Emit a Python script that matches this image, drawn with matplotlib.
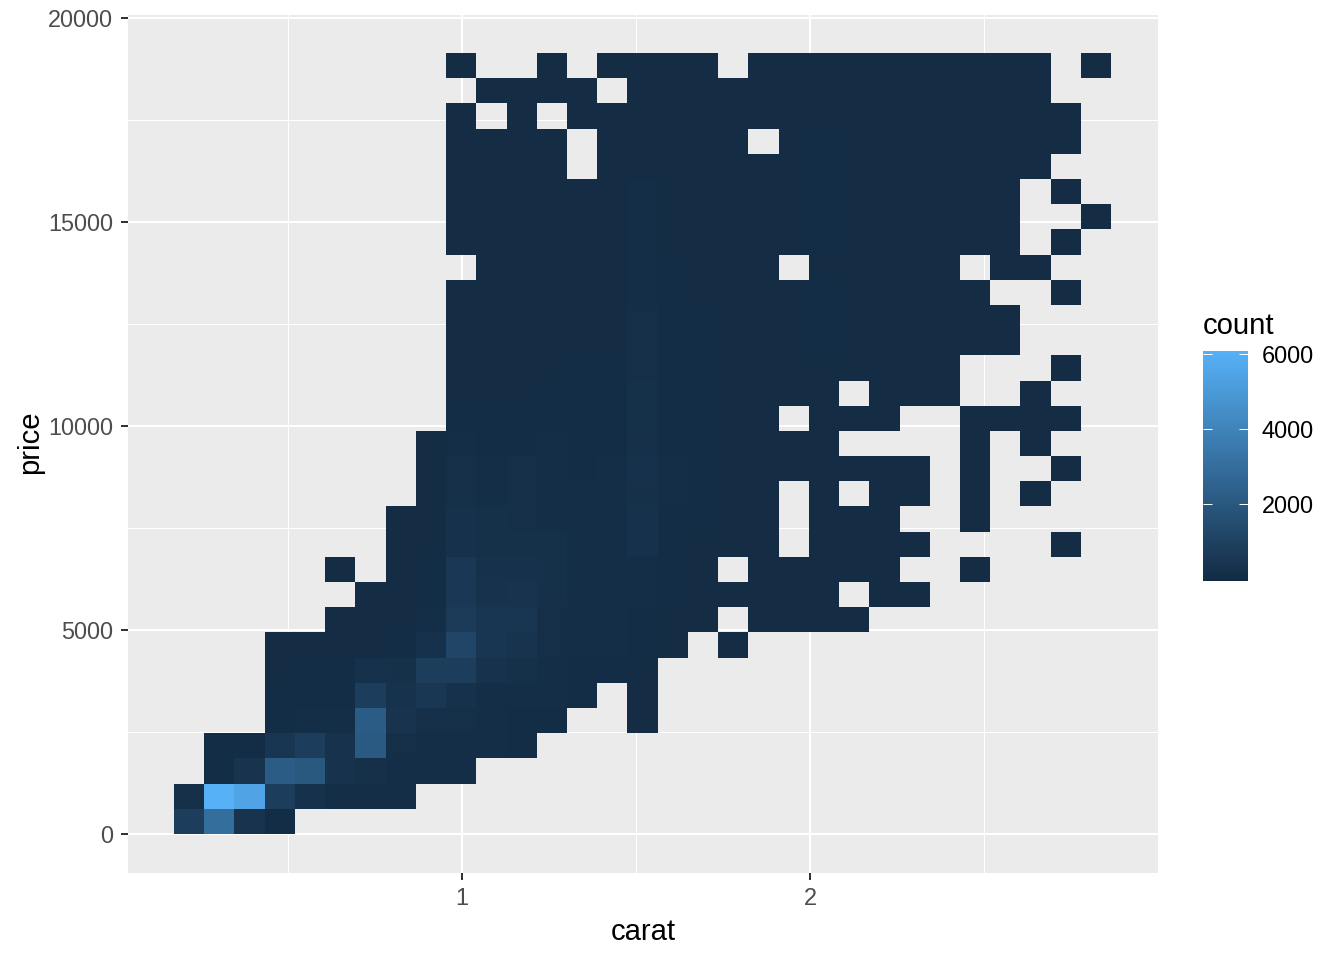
import numpy as np
import matplotlib
matplotlib.use('Agg')
import matplotlib.pyplot as plt
from matplotlib.colors import LinearSegmentedColormap

plt.rcParams['font.family'] = ['Liberation Sans', 'DejaVu Sans']

# counts per bin, top row of the plot first, 31 carat bins per row
counts_by_row = [
    [0]*9 + [3, 0, 0, 4, 0, 8, 9, 9, 7, 0, 6, 8, 10, 10, 8, 6, 5, 4, 3, 2, 0, 1],
    [0]*10 + [5, 6, 7, 8, 0, 20, 22, 20, 18, 22, 28, 40, 30, 25, 18, 14, 10, 8, 5] + [0]*2,
    [0]*9 + [4, 0, 5, 0, 8, 10, 24, 26, 22, 18, 24, 30, 45, 32, 28, 20, 16, 12, 9, 6, 3] + [0],
    [0]*9 + [8, 6, 7, 6, 0, 15, 26, 24, 20, 18, 0, 30, 48, 32, 28, 22, 16, 12, 8, 5, 2] + [0],
    [0]*9 + [9, 8, 9, 8, 0, 18, 30, 28, 24, 22, 24, 30, 50, 34, 30, 24, 18, 14, 9, 6] + [0]*2,
    [0]*9 + [12, 14, 13, 14, 18, 25, 70, 38, 32, 28, 30, 36, 55, 38, 32, 26, 20, 14, 7] + [0, 3, 0],
    [0]*9 + [14, 16, 15, 16, 20, 28, 80, 42, 36, 30, 32, 38, 55, 38, 34, 28, 22, 14, 6] + [0, 0, 2],
    [0]*9 + [16, 18, 16, 18, 22, 30, 85, 44, 38, 32, 34, 40, 50, 38, 32, 26, 18, 12, 5] + [0, 3, 0],
    [0]*10 + [20, 22, 24, 26, 32, 95, 48, 40, 34, 30] + [0] + [42, 36, 30, 24, 14] + [0] + [8, 4] + [0]*2,
    [0]*9 + [18, 24, 26, 28, 32, 38, 105, 52, 44, 36, 34, 40, 50, 38, 32, 24, 16, 8] + [0, 0, 3, 0],
    [0]*9 + [25, 30, 32, 34, 36, 42, 125, 50, 46, 38, 36, 44, 60, 42, 30, 20, 12, 6, 3] + [0]*3,
    [0]*9 + [28, 34, 36, 38, 40, 42, 150, 50, 48, 40, 38, 42, 52, 40, 28, 18, 10, 5, 2] + [0]*3,
    [0]*9 + [32, 38, 40, 42, 46, 48, 165, 55, 50, 42, 38, 36, 34, 28, 20, 12, 6] + [0]*3 + [3, 0],
    [0]*9 + [45, 42, 44, 50, 52, 58, 180, 60, 52, 44, 38, 34, 26] + [0] + [10, 8, 4] + [0]*2 + [2] + [0]*2,
    [0]*9 + [55, 48, 52, 60, 58, 62, 185, 62, 54, 42, 30] + [0] + [14, 10, 5] + [0]*2 + [3, 2, 2, 1, 0],
    [0]*8 + [10, 70, 60, 64, 70, 62, 66, 190, 66, 54, 40, 28, 20, 16] + [0]*4 + [2, 0, 2, 0, 0],
    [0]*8 + [16, 130, 95, 140, 95, 68, 72, 250, 70, 56, 40, 30, 22, 16, 12, 8, 4] + [0, 2, 0, 0, 2, 0],
    [0]*8 + [22, 125, 92, 135, 95, 70, 70, 210, 70, 52, 38, 26] + [0, 12, 0, 6, 4, 0, 2, 0, 2, 0, 0],
    [0]*7 + [8, 34, 250, 180, 165, 105, 74, 70, 235, 66, 48, 34, 22] + [0, 10, 7, 4, 0, 0, 1] + [0]*4,
    [0]*7 + [12, 40, 225, 175, 170, 170, 90, 75, 250, 62, 44, 30, 18] + [0, 9, 6, 4, 2] + [0]*4 + [1, 0],
    [0]*5 + [1, 0, 20, 50, 550, 220, 240, 180, 110, 80, 95, 52, 36, 0, 16, 12, 8, 5, 3, 0, 0, 1] + [0]*4,
    [0]*6 + [10, 30, 60, 550, 300, 320, 200, 100, 75, 80, 50, 32, 22, 14, 10, 6] + [0, 3, 2] + [0]*6,
    [0]*5 + [4, 30, 40, 100, 700, 450, 430, 150, 90, 70, 65, 42, 24] + [0, 12, 8, 5, 2] + [0]*8,
    [0]*3 + [3, 20, 30, 45, 60, 250, 1150, 450, 350, 120, 100, 70, 50, 26] + [0, 2] + [0]*12,
    [0]*3 + [45, 50, 60, 220, 170, 800, 820, 270, 180, 80, 60, 50, 40] + [0]*15,
    [0]*3 + [50, 60, 65, 800, 280, 500, 250, 80, 80, 70, 60] + [0, 12] + [0]*15,
    [0]*3 + [55, 100, 110, 2200, 350, 150, 120, 80, 60, 50] + [0, 0, 4] + [0]*15,
    [0] + [60, 60, 450, 800, 300, 2100, 120, 100, 100, 80, 60] + [0]*19,
    [0] + [50, 350, 2200, 2000, 300, 200, 100, 100, 80] + [0]*21,
    [150, 6080, 5500, 800, 250, 100, 100, 80] + [0]*23,
    [800, 3000, 350, 60] + [0]*27,
]

carat_ticks = [1, 2]
carat_minor = [0.5, 1.5, 2.5]
price_ticks = [0, 5000, 10000, 15000, 20000]
price_minor = [2500, 7500, 12500, 17500]
count_ticks = [2000, 4000, 6000]

carat_edges = np.linspace(0.1724, 2.8655, 32)
price_edges = np.linspace(0, 19142, 32)

W, H = 1344, 960
fig = plt.figure(figsize=(W / 100, H / 100), dpi=100, facecolor='white')
ax = fig.add_axes([128 / W, (H - 873) / H, 1030 / W, 858 / H], facecolor='#EBEBEB')

cmap = LinearSegmentedColormap.from_list('ggblue', ['#132B43', '#56B1F7'])
counts = np.ma.masked_equal(np.array(counts_by_row[::-1], dtype=float), 0)
mesh = ax.pcolormesh(carat_edges, price_edges, counts, cmap=cmap, vmin=-50, vmax=6080,
                     antialiased=False, linewidth=0)

ax.set_xlim(0.0402, 3.0)
ax.set_ylim(-956, 20074)
ax.set_xticks(carat_ticks)
ax.set_xticks(carat_minor, minor=True)
ax.set_yticks(price_ticks)
ax.set_yticks(price_minor, minor=True)
ax.set_axisbelow(True)
ax.grid(which='major', color='white', linewidth=1.44)
ax.grid(which='minor', color='white', linewidth=0.72)
ax.tick_params(which='minor', length=0)
ax.tick_params(which='major', length=5.3, width=1.44, color='#333333',
               labelcolor='#4D4D4D', labelsize=16.9)
ax.tick_params(axis='x', which='major', pad=4.9)
ax.tick_params(axis='y', which='major', pad=5.6)
for spine in ax.spines.values():
    spine.set_visible(False)
ax.set_xlabel('carat', fontsize=21.1, color='black', labelpad=6)
ax.set_ylabel('price', fontsize=21.1, color='black', labelpad=3)
ax.yaxis.label.set_y(0.502)

# legend
cax = fig.add_axes([1203 / W, (H - 581) / H, 45 / W, 230 / H])
cb = fig.colorbar(mesh, cax=cax, ticks=count_ticks)
cb.outline.set_visible(False)
cax.tick_params(left=True, right=True, direction='in', length=6.5, width=0.72,
                color='white', labelcolor='black', labelsize=16.9, pad=10)
fig.text(1203 / W, (H - 334) / H, 'count', fontsize=21.1, color='black', ha='left', va='baseline')

fig.savefig('out.png', dpi=100)
